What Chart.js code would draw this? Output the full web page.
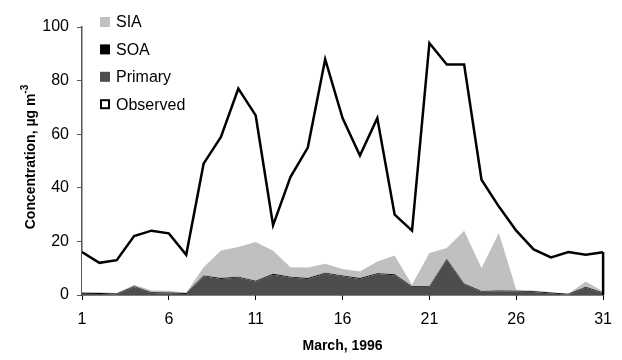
<!DOCTYPE html>
<html>
<head>
<meta charset="utf-8">
<script src="https://cdn.jsdelivr.net/npm/chart.js@4"></script>
<style>
  html, body { margin: 0; padding: 0; background: #fff; }
  #wrap { width: 622px; height: 360px; }
</style>
</head>
<body>
<div id="wrap"><canvas id="chart" width="622" height="360"></canvas></div>
<script>
// days of March 1996
const days = [1,2,3,4,5,6,7,8,9,10,11,12,13,14,15,16,17,18,19,20,21,22,23,24,25,26,27,28,29,30,31];
const xTicks = [1, 6, 11, 16, 21, 26, 31];

// concentrations, ug m-3
const observed = [16,12,13,22,24,23,15,49,59,77,67,26,44,55,88,66,52,66,30,24,94,86,86,43,33,24,17,14,16,15,16];
const primary  = [0.5,0.4,0.3,3.0,0.7,0.6,0.4,7.0,6.0,6.5,5.0,7.6,6.5,6.0,8.0,7.0,6.0,7.8,7.4,3.0,3.1,13.2,4.0,1.2,1.4,1.3,1.1,0.6,0.2,2.8,0.6];
const soa      = [0.3,0.3,0.3,0.3,0.3,0.3,0.3,0.3,0.3,0.3,0.3,0.3,0.3,0.3,0.3,0.3,0.3,0.3,0.3,0.3,0.3,0.3,0.3,0.3,0.3,0.3,0.3,0.3,0.3,0.3,0.3];
const sia      = [0.3,0.3,0.1,0.5,0.7,0.7,0.1,3.1,10.3,11.1,14.5,8.6,3.6,4.0,3.4,2.4,2.5,4.4,7.0,0.5,12.3,4.0,19.7,8.6,21.4,0.4,0.3,0.1,0,1.9,0.4];

const pts = arr => arr.map((v, i) => ({ x: days[i], y: v }));
const FONT = "'Liberation Sans', Arial, sans-serif";

// legend drawn in the upper left corner of the plot
const legendPlugin = {
  id: 'cornerLegend',
  afterDraw(chart) {
    const ctx = chart.ctx;
    const ca = chart.chartArea;
    const items = [3, 2, 1, 0].map(i => chart.data.datasets[i]);
    ctx.save();
    ctx.font = '16px ' + FONT;
    ctx.textBaseline = 'middle';
    items.forEach((ds, k) => {
      const cy = ca.top - 5 + k * 27.4;
      const x = ca.left + 19;
      if (ds.label === 'Observed') {
        ctx.fillStyle = '#fff';
        ctx.fillRect(x, cy - 4, 8, 8);
        ctx.strokeStyle = '#000';
        ctx.lineWidth = 2;
        ctx.strokeRect(x, cy - 4, 8, 8);
      } else {
        ctx.fillStyle = ds.backgroundColor;
        ctx.fillRect(x - 1, cy - 5, 10, 10);
      }
      ctx.fillStyle = '#000';
      ctx.fillText(ds.label, x + 15, cy + 1);
    });
    ctx.restore();
  }
};

// axis titles (y title carries a superscript)
const titlePlugin = {
  id: 'axisTitles',
  afterDraw(chart) {
    const ctx = chart.ctx;
    const ca = chart.chartArea;
    ctx.save();
    ctx.fillStyle = '#000';
    ctx.font = 'bold 14px ' + FONT;
    ctx.textAlign = 'center';
    ctx.textBaseline = 'middle';
    ctx.fillText('March, 1996', (ca.left + ca.right) / 2, 346);

    const main = 'Concentration, \u00b5g m';
    const sup = '-3';
    ctx.font = 'bold 14px ' + FONT;
    const w1 = ctx.measureText(main).width;
    ctx.font = 'bold 10px ' + FONT;
    const w2 = ctx.measureText(sup).width;
    ctx.translate(31, 157);
    ctx.rotate(-Math.PI / 2);
    ctx.textAlign = 'left';
    ctx.font = 'bold 14px ' + FONT;
    ctx.fillText(main, -(w1 + w2) / 2, 0);
    ctx.font = 'bold 10px ' + FONT;
    ctx.fillText(sup, -(w1 + w2) / 2 + w1, -6);
    ctx.restore();
  }
};

// closes the right side of the observed area down to the baseline
const edgePlugin = {
  id: 'observedEdge',
  afterDatasetsDraw(chart) {
    const ctx = chart.ctx;
    const xs = chart.scales.x, ys = chart.scales.y;
    const last = observed.length - 1;
    const px = xs.getPixelForValue(days[last]);
    ctx.save();
    ctx.strokeStyle = '#000';
    ctx.lineWidth = 2.5;
    ctx.beginPath();
    ctx.moveTo(px, ys.getPixelForValue(observed[last]));
    ctx.lineTo(px, ys.getPixelForValue(0));
    ctx.stroke();
    ctx.restore();
  }
};

new Chart(document.getElementById('chart'), {
  type: 'line',
  data: {
    datasets: [
      { label: 'Observed', data: pts(observed), stack: 'obs', order: 1,
        borderColor: '#000', borderWidth: 2.5, backgroundColor: '#fff', fill: 'origin' },
      { label: 'Primary', data: pts(primary), stack: 'model', order: 0,
        borderWidth: 0, backgroundColor: '#4d4d4d', fill: 'origin' },
      { label: 'SOA', data: pts(soa), stack: 'model', order: 0,
        borderWidth: 0, backgroundColor: '#000', fill: '-1' },
      { label: 'SIA', data: pts(sia), stack: 'model', order: 0,
        borderWidth: 0, backgroundColor: '#c0c0c0', fill: '-1' }
    ]
  },
  options: {
    responsive: false,
    animation: false,
    layout: { padding: { top: 27, right: 10, left: 0, bottom: 0 } },
    elements: { point: { radius: 0 }, line: { tension: 0 } },
    plugins: { legend: { display: false }, tooltip: { enabled: false } },
    scales: {
      x: {
        type: 'linear', min: 1, max: 31,
        afterBuildTicks: s => { s.ticks = xTicks.map(v => ({ value: v })); },
        afterFit: s => { s.height = 65; },
        grid: { drawOnChartArea: false, tickLength: 5, color: '#000' },
        border: { color: '#000', width: 1.5 },
        ticks: { color: '#000', font: { family: FONT, size: 16 }, padding: 10, maxRotation: 0 }
      },
      y: {
        stacked: true, min: 0, max: 100,
        afterFit: s => { s.width = 82; },
        grid: { drawOnChartArea: false, tickLength: 5, color: '#555' },
        border: { color: '#555', width: 1.5 },
        ticks: { stepSize: 20, color: '#000', font: { family: FONT, size: 16 }, padding: 8 }
      }
    }
  },
  plugins: [legendPlugin, titlePlugin, edgePlugin]
});
</script>
</body>
</html>
